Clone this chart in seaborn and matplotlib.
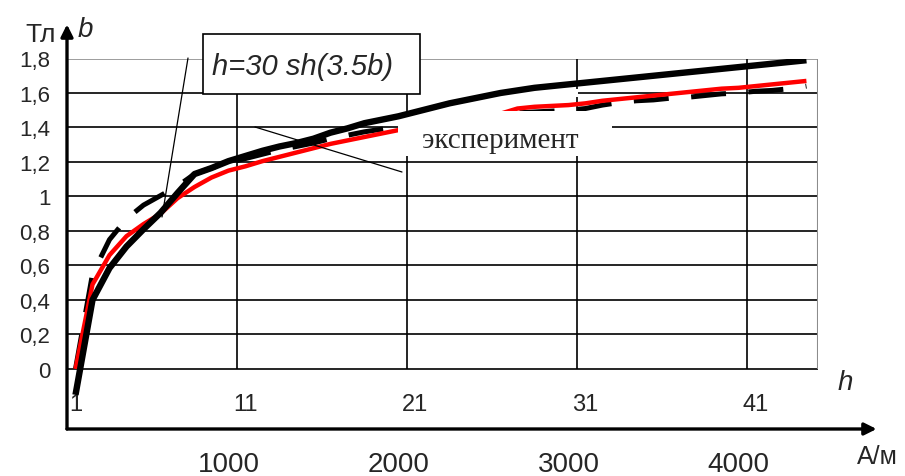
import matplotlib
matplotlib.use("Agg")
import matplotlib.pyplot as plt
from matplotlib.patches import Rectangle
import numpy as np
import pandas as pd
import seaborn as sns

# category index along the h axis (Excel line chart)
categories = list(range(1, 45))

# h = 30 sh(3.5b) model, black solid
b_model = [-0.15, 0.40, 0.585, 0.71, 0.81, 0.905, 1.02, 1.13, 1.165, 1.205,
           1.235, 1.265, 1.29, 1.31, 1.335, 1.37, 1.395, 1.425, 1.445, 1.465,
           1.49, 1.515, 1.54, 1.56, 1.58, 1.60, 1.615, 1.63, 1.64, 1.65,
           1.66, 1.67, 1.68, 1.69, 1.70, 1.71, 1.72, 1.73, 1.74, 1.75,
           1.76, 1.77, 1.78, 1.79]

# experiment, red
b_exp = [0.0, 0.49, 0.66, 0.77, 0.84, 0.90, 0.99, 1.055, 1.11, 1.15,
         1.175, 1.205, 1.23, 1.255, 1.28, 1.305, 1.325, 1.345, 1.365, 1.385,
         1.40, 1.42, 1.435, 1.45, 1.465, 1.48, 1.51, 1.52, 1.525, 1.53,
         1.54, 1.555, 1.565, 1.575, 1.585, 1.595, 1.605, 1.615, 1.625, 1.63,
         1.64, 1.65, 1.66, 1.67]

# second approximation, black dashed
b_dash = [0.0, 0.55, 0.75, 0.87, 0.95, 1.005, 1.06, 1.13, 1.165, 1.195,
          1.22, 1.245, 1.27, 1.29, 1.31, 1.335, 1.355, 1.375, 1.39, 1.405,
          1.42, 1.435, 1.45, 1.46, 1.47, 1.48, 1.485, 1.49, 1.495, 1.50,
          1.51, 1.53, 1.545, 1.555, 1.56, 1.57, 1.575, 1.585, 1.595, 1.60,
          1.61, 1.615, 1.625, 1.64]

y_ticks = [0, 0.2, 0.4, 0.6, 0.8, 1.0, 1.2, 1.4, 1.6, 1.8]
y_labels = ["0", "0,2", "0,4", "0,6", "0,8", "1", "1,2", "1,4", "1,6", "1,8"]
cat_labels = [1, 11, 21, 31, 41]
am_ticks = [10, 20, 30, 40]
am_labels = ["1000", "2000", "3000", "4000"]

df = pd.DataFrame({"k": categories, "model": b_model, "exp": b_exp, "dash": b_dash})

W, H = 905, 477
def fx(x):
    return x / W
def fy(y):
    return 1 - y / H

sns.set_style("white")
plt.rcParams["font.family"] = ["Liberation Sans", "DejaVu Sans"]

fig = plt.figure(figsize=(9.05, 4.77), dpi=100)
ax = fig.add_axes([fx(67), fy(430), (818 - 67) / W, (430 - 59.5) / H])
ax.set_xlim(0.5, 44.68)
ax.set_ylim(-0.348, 1.8)
for s in ax.spines.values():
    s.set_visible(False)

# grid
ax.hlines(y_ticks, 0.5, 44.68, colors=["black"] * 9 + ["#8c8c8c"], lw=1.2, zorder=1)
ax.vlines([10.5, 20.5, 30.5, 40.5], 0, 1.8, colors="black", lw=1.2, zorder=1)
ax.vlines([44.68], 0, 1.8, colors="#8c8c8c", lw=1.5, zorder=1)

# curves
sns.lineplot(data=df, x="k", y="dash", ax=ax, color="black", lw=3.6, zorder=2)
ax.lines[-1].set_dashes([7, 4.5])
sns.lineplot(data=df, x="k", y="exp", ax=ax, color="#ff0000", lw=3.2, zorder=3)
sns.lineplot(data=df, x="k", y="model", ax=ax, color="black", lw=4.6, zorder=5)
for ln in ax.lines:
    ln.set_solid_capstyle("butt")

ax.set_xlabel("")
ax.set_ylabel("")
ax.set_yticks(y_ticks)
ax.set_yticklabels(y_labels, fontsize=16)
ax.tick_params(axis="y", length=7, width=1.2, pad=5, color="black")
ax.set_xticks(am_ticks)
ax.set_xticklabels(am_labels, fontsize=20)
ax.tick_params(axis="x", length=0, pad=16)

for c in cat_labels:
    ax.text(c, -0.205, str(c), ha="center", va="center", fontsize=17)

# axis arrows
arrow = dict(arrowstyle="-|>", lw=2.4, color="black", mutation_scale=18, shrinkA=0, shrinkB=0)
ax.annotate("", xy=(0, 1.092), xytext=(0, 0), xycoords="axes fraction",
            textcoords="axes fraction", arrowprops=arrow, annotation_clip=False)
ax.annotate("", xy=(1.078, 0), xytext=(0, 0), xycoords="axes fraction",
            textcoords="axes fraction", arrowprops=arrow, annotation_clip=False)

# white gaps / label boxes
tf = fig.transFigure
ax.add_patch(Rectangle((fx(398), fy(157)), (612 - 398) / W, (157 - 112) / H,
                       transform=tf, facecolor="white", edgecolor="none",
                       zorder=4, clip_on=False))
ax.add_patch(Rectangle((fx(420), fy(98)), (578 - 420) / W, 8 / H,
                       transform=tf, facecolor="white", edgecolor="none",
                       zorder=1.5, clip_on=False))
ax.add_patch(Rectangle((fx(203), fy(95)), (420 - 203) / W, (95 - 35) / H,
                       transform=tf, facecolor="white", edgecolor="black",
                       lw=1.2, zorder=6, clip_on=False))

fig.text(fx(303), fy(67), "h=30 sh(3.5b)", fontsize=21, style="italic",
         ha="center", va="center", zorder=7)
fig.text(fx(500), fy(141), "эксперимент", fontsize=21, ha="center", va="center",
         family=["Liberation Serif", "DejaVu Serif"], zorder=7)

# leader lines
ax.plot([fx(188), fx(162)], [fy(59), fy(218)], transform=tf, color="black",
        lw=0.9, zorder=7, clip_on=False)
ax.plot([fx(255), fx(402)], [fy(128), fy(173)], transform=tf, color="black",
        lw=0.9, zorder=7, clip_on=False)

# axis titles
fig.text(fx(41), fy(35), "Тл", fontsize=19, ha="center", va="center")
fig.text(fx(85), fy(30), "b", fontsize=20, style="italic", ha="center", va="center")
fig.text(fx(845), fy(383), "h", fontsize=20, style="italic", ha="center", va="center")
fig.text(fx(877), fy(457), "А/м", fontsize=18, ha="center", va="center")

fig.savefig("out.png", dpi=100)
